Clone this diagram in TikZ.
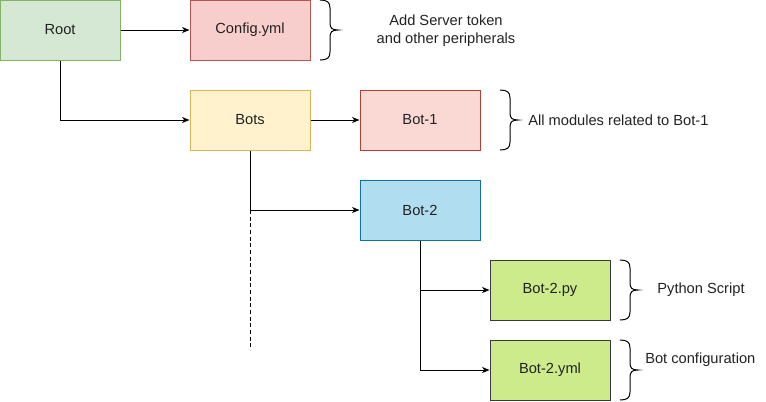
\documentclass[tikz,border=0pt]{standalone}
\usepackage{fontspec}
\setmainfont{Liberation Sans}
\usetikzlibrary{arrows.meta}
\definecolor{txt}{HTML}{222222}
\definecolor{rootF}{HTML}{D5E8D4}\definecolor{rootD}{HTML}{82B366}
\definecolor{cfgF}{HTML}{F8CECC}\definecolor{cfgD}{HTML}{B85450}
\definecolor{botsF}{HTML}{FFF2CC}\definecolor{botsD}{HTML}{D6B656}
\definecolor{b1F}{HTML}{FAD9D5}\definecolor{b1D}{HTML}{AE4132}
\definecolor{b2F}{HTML}{B1DDF0}\definecolor{b2D}{HTML}{10739E}
\definecolor{pyF}{HTML}{CDEB8B}\definecolor{pyD}{HTML}{36393D}
\tikzset{
  box/.style={draw, line width=0.75pt, minimum width=90pt, minimum height=45pt, inner sep=0pt, text=txt, font=\fontsize{11}{13.5}\selectfont},
  conn/.style={line width=0.75pt, -{Stealth[length=5.5pt, width=4.5pt, inset=1.5pt]}},
  note/.style={text=txt, font=\fontsize{11}{13.5}\selectfont, align=center, inner sep=0pt},
  curly/.pic={\draw[line width=0.75pt] (0,0) .. controls (7,0) and (10,2) .. (10,8) -- (10,23) .. controls (10,28) and (12,30) .. (18,30)
      .. controls (12,30) and (10,32) .. (10,37) -- (10,52) .. controls (10,58) and (7,60) .. (0,60);}
}
\begin{document}
\begin{tikzpicture}[x=0.75pt, y=-0.75pt]
\useasboundingbox (0,0) rectangle (766,401);
\node[box, fill=rootF, draw=rootD] (root) at (60,30) {Root};
\node[box, fill=cfgF, draw=cfgD] (cfg) at (250,30) {Config.yml};
\node[box, fill=botsF, draw=botsD] (bots) at (250,120) {Bots};
\node[box, fill=b1F, draw=b1D] (b1) at (420,120) {Bot-1};
\node[box, fill=b2F, draw=b2D] (b2) at (420,210) {Bot-2};
\node[box, fill=pyF, draw=pyD] (py) at (550,290) {Bot-2.py};
\node[box, fill=pyF, draw=pyD] (yml) at (550,370) {Bot-2.yml};

\pic at (320,0) {curly};
\pic at (500,90) {curly};
\pic at (620,260) {curly};
\pic at (620,340) {curly};

\node[note] (n1) at (446,31) {Add Server token\\and other peripherals};
\node[note, anchor=west] (n2) at (528,120) {All modules related to Bot-1};
\node[note] (n3) at (701,290) {Python Script};
\node[note, anchor=west] (n4) at (645,360) {Bot configuration};

\coordinate (dend) at (250,350);
\coordinate (j1) at (250,210);

\draw[conn] (root) -- (cfg);
\draw[conn] (root.south) |- (bots.west);
\draw[conn] (bots) -- (b1);
\draw[conn] (bots.south) |- (b2.west);
\draw[line width=0.75pt, dashed, dash pattern=on 3pt off 2pt] (j1) -- (dend);
\draw[conn] (b2.south) |- (py.west);
\draw[conn] (b2.south) |- (yml.west);
\end{tikzpicture}
\end{document}
